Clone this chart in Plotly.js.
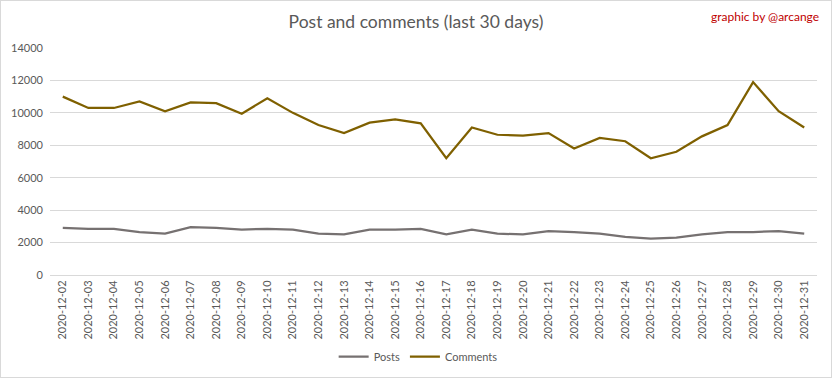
<!DOCTYPE html>
<html><head><meta charset="utf-8">
<script src="https://cdn.plot.ly/plotly-3.0.1.min.js"></script>
<style>html,body{margin:0;padding:0;background:#fff}#wrap{width:830px;height:376px;border:1px solid #d9d9d9}#chart{width:830px;height:376px}</style>
</head><body><div id="wrap"><div id="chart"></div></div>
<script>
const dates = ["2020-12-02","2020-12-03","2020-12-04","2020-12-05","2020-12-06","2020-12-07","2020-12-08","2020-12-09","2020-12-10","2020-12-11","2020-12-12","2020-12-13","2020-12-14","2020-12-15","2020-12-16","2020-12-17","2020-12-18","2020-12-19","2020-12-20","2020-12-21","2020-12-22","2020-12-23","2020-12-24","2020-12-25","2020-12-26","2020-12-27","2020-12-28","2020-12-29","2020-12-30","2020-12-31"];
const posts = [2900,2850,2850,2650,2550,2950,2900,2800,2850,2800,2550,2500,2800,2800,2850,2500,2800,2550,2500,2700,2650,2550,2350,2250,2300,2500,2650,2650,2700,2550];
const comments = [11000,10300,10300,10700,10100,10650,10600,9950,10900,10000,9250,8750,9400,9600,9350,7200,9100,8650,8600,8750,7800,8450,8250,7200,7600,8550,9250,11900,10100,9100];
const yTicks = [0,2000,4000,6000,8000,10000,12000,14000];

const traces = [
  {x: dates, y: posts, name: "Posts", type: "scatter", mode: "lines", line: {color: "#767171", width: 2.25}},
  {x: dates, y: comments, name: "Comments", type: "scatter", mode: "lines", line: {color: "#7F6000", width: 2.25}}
];
const layout = {
  width: 830, height: 376,
  margin: {l: 49, r: 14, t: 47, b: 102, autoexpand: false},
  paper_bgcolor: "#fff", plot_bgcolor: "#fff",
  font: {family: "Lato, 'Open Sans', sans-serif", size: 11, color: "#595959"},
  title: {text: "Post and comments (last 30 days)", font: {size: 17.5, color: "#595959", family: "Lato, 'Open Sans', sans-serif"}, x: 0.5, xanchor: "center", y: 0.945, yanchor: "middle"},
  xaxis: {type: "category", range: [-0.5, 29.5], automargin: false, tickangle: -90, showgrid: false, showline: true, linecolor: "#d9d9d9", linewidth: 1, ticks: "", tickfont: {size: 11, color: "#595959"}, fixedrange: true},
  yaxis: {range: [0, 14000], automargin: false, tickvals: yTicks, ticktext: yTicks.map(String), showgrid: true, gridcolor: "#d9d9d9", gridwidth: 1, zeroline: false, showline: false, ticks: "", tickfont: {size: 11, color: "#595959"}, ticklabelstandoff: 6, fixedrange: true},
  showlegend: true,
  legend: {orientation: "h", x: 0.48, xanchor: "center", y: -0.36, yanchor: "middle", font: {size: 11, color: "#595959"}, itemwidth: 30},
  annotations: [{text: "graphic by @arcange", xref: "paper", yref: "paper", x: 1.005, xanchor: "right", y: 1.14, yanchor: "middle", showarrow: false, font: {size: 12, color: "#C00000", family: "Lato, 'Open Sans', sans-serif"}}]
};
Plotly.newPlot("chart", traces, layout, {displayModeBar: false, staticPlot: true});
</script></body></html>
